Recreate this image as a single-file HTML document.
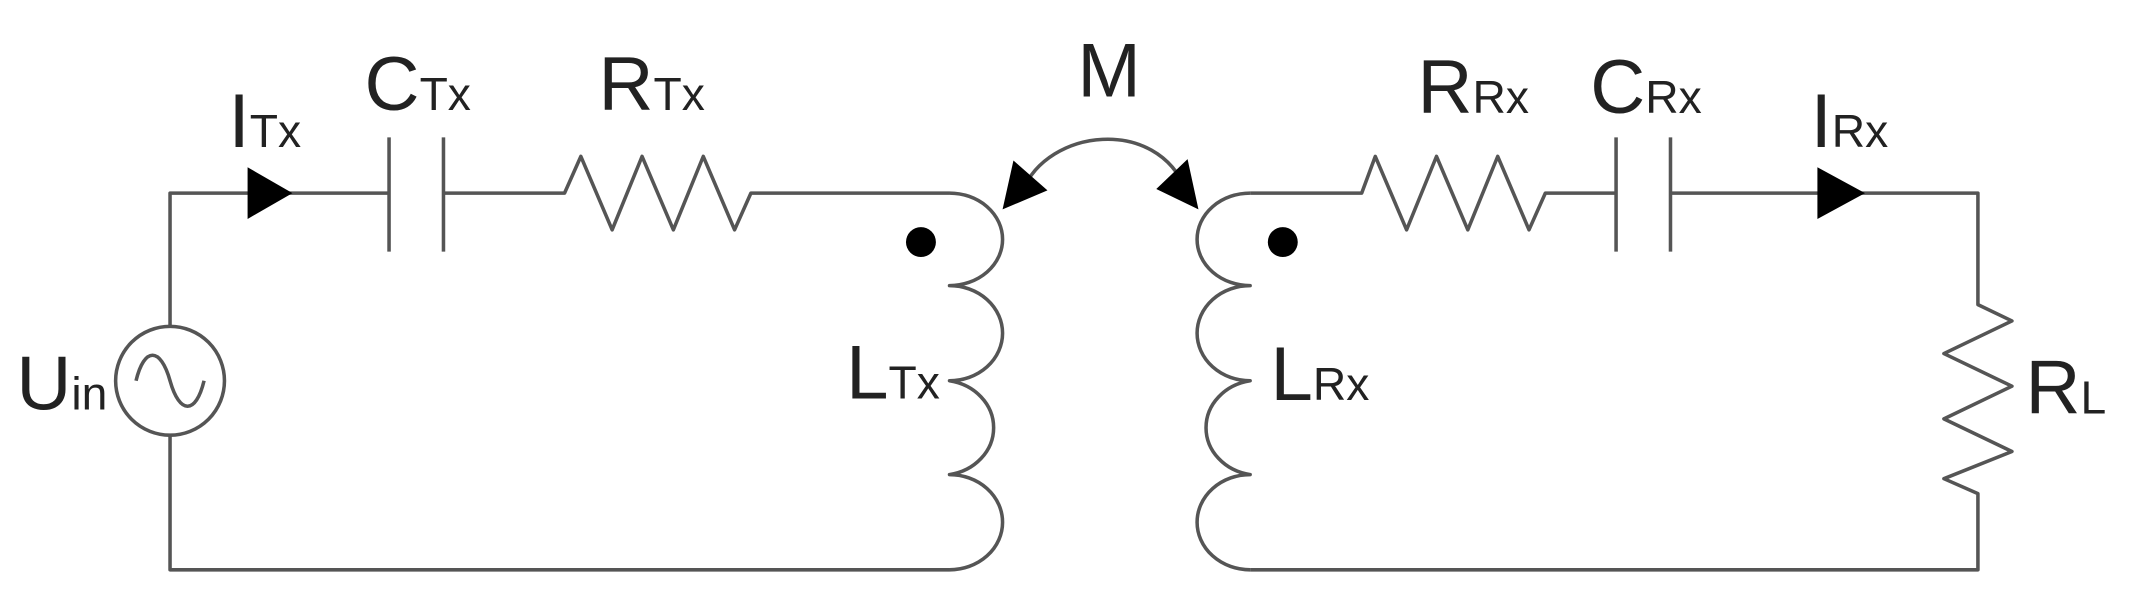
<!DOCTYPE html>
<html><head><meta charset="utf-8"><style>
html,body{margin:0;padding:0;background:#fff;}
svg{display:block;}
text{font-family:"Liberation Sans",Arial,sans-serif;fill:#222;}
</style></head><body>
<svg width="2133" height="597" viewBox="0 0 1568 439" preserveAspectRatio="none" xmlns="http://www.w3.org/2000/svg">
<g fill="none" stroke="#555" stroke-width="2.6" stroke-linejoin="round">
<path d="M125,240 L125,142 L286,142"/>
<path d="M326,142 L415,142 L427,115 L450,169 L472,115 L495,169 L517,115 L540,169 L552,142 L698,142"/>
<path d="M125,320 L125,419 L698,419"/>
<circle cx="125" cy="280" r="40"/>
<path d="M100,280 C106,255 118,255 125,280 C132,305 144,305 150,280"/>
<line x1="286" y1="101" x2="286" y2="185"/>
<line x1="326" y1="101" x2="326" y2="185"/>
<path d="M698,142 A39,34 0 0 1 698,210 A39,35 0 0 1 698,280 A39,35 0 0 1 698,349 A39,35 0 0 1 698,419"/>
<path d="M919,142 A39,34 0 0 0 919,210 A39,35 0 0 0 919,280 A39,35 0 0 0 919,349 A39,35 0 0 0 919,419"/>
<path d="M919,142 L1001,142 L1011,115 L1034,169 L1056,115 L1079,169 L1101,115 L1124,169 L1136,142 L1188,142"/>
<line x1="1188" y1="101" x2="1188" y2="185"/>
<line x1="1228" y1="101" x2="1228" y2="185"/>
<path d="M1228,142 L1454,142 L1454,224 L1479,236 L1429,260 L1479,284 L1429,308 L1479,332 L1429,352 L1454,363 L1454,419 L919,419"/>
<path d="M752,140 C770,95 850,85 872,140"/>
</g>
<g fill="#000" stroke="none">
<polygon points="182,123 215,142 182,161"/>
<polygon points="1336,123 1371,142 1336,161"/>
<circle cx="677" cy="178" r="11"/>
<circle cx="943" cy="178" r="11"/>
<polygon points="737,154 745,118 770,140"/>
<polygon points="881,154 850,139 873,117"/>
</g>
<g>
<text x="168" y="108" font-size="56">I<tspan font-size="34">Tx</tspan></text>
<text x="268" y="81" font-size="56">C<tspan font-size="34">Tx</tspan></text>
<text x="440" y="81" font-size="56">R<tspan font-size="34">Tx</tspan></text>
<text x="12" y="301" font-size="56">U<tspan font-size="34">in</tspan></text>
<text x="622" y="293" font-size="56">L<tspan font-size="34">Tx</tspan></text>
<text x="792" y="71" font-size="56">M</text>
<text x="1042" y="83" font-size="56">R<tspan font-size="34">Rx</tspan></text>
<text x="1169" y="83" font-size="56">C<tspan font-size="34">Rx</tspan></text>
<text x="1331" y="108" font-size="56">I<tspan font-size="34">Rx</tspan></text>
<text x="934" y="294" font-size="56">L<tspan font-size="34">Rx</tspan></text>
<text x="1489" y="304" font-size="56">R<tspan font-size="34">L</tspan></text>
</g>
</svg>
</body></html>
